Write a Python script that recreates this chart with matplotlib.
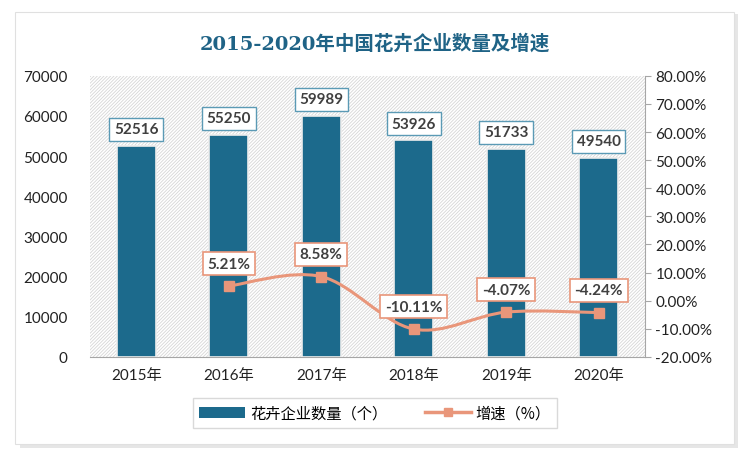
import numpy as np
import matplotlib.pyplot as plt
from matplotlib.patches import Rectangle, Patch
from matplotlib.path import Path
from matplotlib.patches import PathPatch
from matplotlib.lines import Line2D

plt.rcParams['font.family'] = ['Lato', 'Noto Sans CJK SC']
plt.rcParams['hatch.linewidth'] = 0.6

years = ['2015年', '2016年', '2017年', '2018年', '2019年', '2020年']
counts = [52516, 55250, 59989, 53926, 51733, 49540]
growth_years = [1, 2, 3, 4, 5]
growth = [5.21, 8.58, -10.11, -4.07, -4.24]

bar_color = '#1C6A8C'
line_color = '#E9967A'
text_color = '#404040'

fig = plt.figure(figsize=(7.5, 4.6), dpi=100)
fig.patch.set_facecolor('white')

# card with shadow
fig.patches.append(Rectangle((0.026, 0.025), 0.958, 0.942, transform=fig.transFigure,
                             facecolor='#E6E6E6', edgecolor='none', zorder=-3))
fig.patches.append(Rectangle((0.02, 0.032), 0.958, 0.94, transform=fig.transFigure,
                             facecolor='white', edgecolor='#E0E0E0', lw=0.8, zorder=-2))

ax = fig.add_axes([0.12, 0.222, 0.74, 0.611])
ax.set_facecolor('white')
ax.patch.set_hatch('//////////')
ax.patch.set_edgecolor('#D6D6D6')
ax.patch.set_linewidth(0)

x = np.arange(len(years))
ax.bar(x, counts, width=0.42, color=bar_color, edgecolor='#EDEDED', linewidth=1.2, zorder=3)
for xi, v in zip(x, counts):
    ax.annotate(str(v), (xi, v), xytext=(0, 7), textcoords='offset points', ha='center', va='bottom',
                fontsize=11, fontweight='bold', color=text_color, zorder=6,
                bbox=dict(boxstyle='square,pad=0.3', fc='white', ec='#5B9AB5', lw=1))

ax.set_ylim(0, 70000)
ax.set_xlim(-0.5, 5.5)
ax.set_yticks(np.arange(0, 70001, 10000))
ax.set_xticks(x)
ax.set_xticklabels(years, fontsize=11, color='#222222')
ax.tick_params(axis='y', length=0, labelsize=11, labelcolor='#222222', pad=16)
ax.tick_params(axis='x', length=0, pad=8)
for s in ['top', 'right', 'left']:
    ax.spines[s].set_visible(False)
ax.spines['bottom'].set_color('#A6A6A6')

ax2 = ax.twinx()
ax2.set_ylim(-20, 80)
ax2.set_yticks(np.arange(-20, 81, 10))
ax2.set_yticklabels([f'{v:.2f}%' for v in np.arange(-20, 81, 10)])
ax2.tick_params(axis='y', length=4, direction='out', labelsize=11, labelcolor='#222222', color='#A6A6A6')
for s in ['top', 'left', 'bottom']:
    ax2.spines[s].set_visible(False)
ax2.spines['right'].set_color('#A6A6A6')

# smooth line through points (Catmull-Rom as cubic Bezier)
px = np.array(growth_years, dtype=float)
py = np.array(growth, dtype=float)
verts = [(px[0], py[0])]
codes = [Path.MOVETO]
n = len(px)
for i in range(n - 1):
    p0 = (px[max(i - 1, 0)], py[max(i - 1, 0)])
    p1 = (px[i], py[i])
    p2 = (px[i + 1], py[i + 1])
    p3 = (px[min(i + 2, n - 1)], py[min(i + 2, n - 1)])
    c1 = (p1[0] + (p2[0] - p0[0]) / 6, p1[1] + (p2[1] - p0[1]) / 6)
    c2 = (p2[0] - (p3[0] - p1[0]) / 6, p2[1] - (p3[1] - p1[1]) / 6)
    verts += [c1, c2, p2]
    codes += [Path.CURVE4] * 3
ax2.add_patch(PathPatch(Path(verts, codes), fc='none', ec=line_color, lw=2.2, zorder=4))
ax2.plot(px, py, ls='none', marker='s', ms=7, color=line_color, zorder=5)
for xi, v in zip(px, py):
    ax2.annotate(f'{v:.2f}%', (xi, v), xytext=(0, 11), textcoords='offset points', ha='center', va='bottom',
                 fontsize=11, fontweight='bold', color=text_color, zorder=6,
                 bbox=dict(boxstyle='square,pad=0.3', fc='white', ec=line_color, lw=1.2))

fig.text(0.5, 0.905, '2015-2020年中国花卉企业数量及增速', ha='center', va='center',
         fontsize=14, fontweight='bold', color='#1F6386',
         family=['DejaVu Serif', 'Noto Sans CJK SC'])

handles = [Patch(facecolor=bar_color, edgecolor='none'),
           Line2D([0], [0], color=line_color, lw=2.5, marker='s', ms=6)]
fig.legend(handles, ['花卉企业数量（个）', '增速（%）'], loc='center', bbox_to_anchor=(0.5, 0.1),
           ncol=2, frameon=True, fancybox=False, edgecolor='#D0D0D0',
           handlelength=3, handletextpad=0.3, columnspacing=2.5,
           prop={'family': ['Noto Sans CJK SC'], 'size': 11})

fig.savefig('out.png', dpi=100)
